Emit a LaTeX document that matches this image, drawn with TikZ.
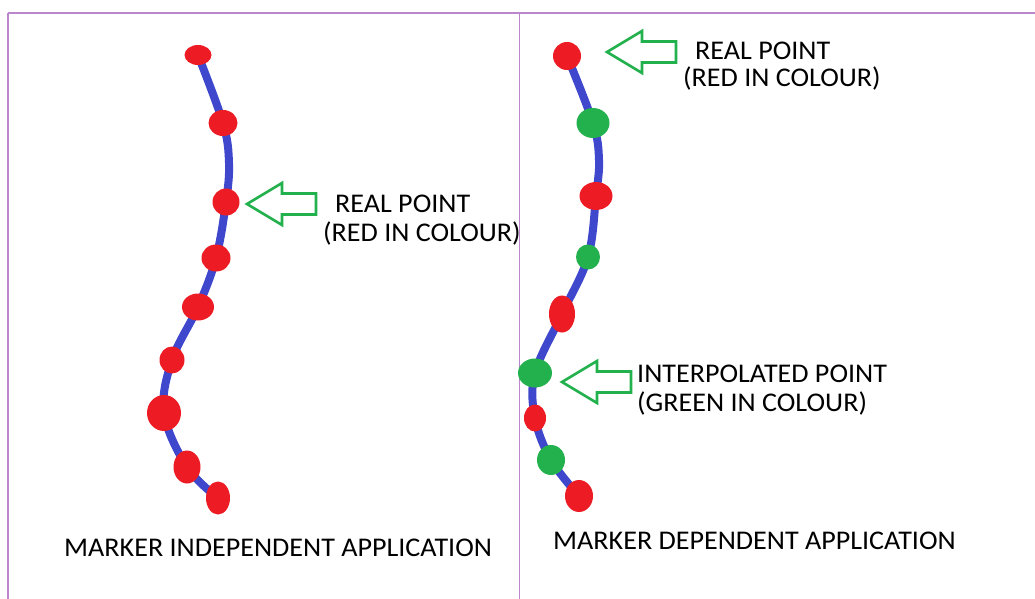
\documentclass[tikz,border=0pt]{standalone}
\usepackage{fontspec}
\setmainfont{Carlito}[FakeStretch=1.04]
\usetikzlibrary{shapes.geometric}

\definecolor{framepurple}{RGB}{188,134,204}
\definecolor{trackblue}{RGB}{63,72,204}
\definecolor{realred}{RGB}{237,28,36}
\definecolor{interpgreen}{RGB}{34,177,76}

\tikzset{
  frameline/.style={draw=framepurple},
  track/.style={draw=trackblue, line width=8pt, line cap=round, line join=round},
  realdot/.style={ellipse, fill=realred, inner sep=0pt},
  interpdot/.style={ellipse, fill=interpgreen, inner sep=0pt},
  label/.style={anchor=base west, inner sep=0pt, font=\fontsize{27}{32}\selectfont},
  pics/pointer/.style={code={
    \draw[draw=interpgreen, line width=2.6pt, line join=miter]
      (0,0) -- (35,-21) -- (35,-10.5) -- (69,-10.5) -- (69,10.5)
      -- (35,10.5) -- (35,21) -- cycle;
  }},
}

\begin{document}
\begin{tikzpicture}[x=1pt, y=-1pt]
  \useasboundingbox (0,0) rectangle (1035,599);

  % panel frame
  \draw[frameline, line width=2pt] (8,13) -- (1035,13);
  \draw[frameline, line width=1.5pt] (8,13) -- (8,599);
  \draw[frameline, line width=1pt] (519,13) -- (519,599);

  % ---- left panel: marker independent track ----
  \coordinate (a1) at (198,55);
  \coordinate (a2) at (223,123);
  \coordinate (a3) at (226,202);
  \coordinate (a4) at (216,258);
  \coordinate (a5) at (198,307);
  \coordinate (a6) at (172,360);
  \coordinate (a7) at (164,413);
  \coordinate (a8) at (187,467);
  \coordinate (a9) at (218,498);
  \coordinate (ab) at (229,163);

  \draw[track] plot[smooth, tension=0.6] coordinates
    {(a1) (a2) (ab) (a3) (a4) (a5) (a6) (a7) (a8) (a9)};

  \node[realdot, minimum width=27pt, minimum height=20pt] (A1) at (a1) {};
  \node[realdot, minimum width=29pt, minimum height=26pt] (A2) at (a2) {};
  \node[realdot, minimum width=27pt, minimum height=27pt] (A3) at (a3) {};
  \node[realdot, minimum width=29pt, minimum height=27pt] (A4) at (a4) {};
  \node[realdot, minimum width=32pt, minimum height=27pt] (A5) at (a5) {};
  \node[realdot, minimum width=25pt, minimum height=27pt] (A6) at (a6) {};
  \node[realdot, minimum width=34pt, minimum height=36pt] (A7) at (a7) {};
  \node[realdot, minimum width=27pt, minimum height=33pt] (A8) at (a8) {};
  \node[realdot, minimum width=24pt, minimum height=33pt] (A9) at (a9) {};

  \pic at (247,204) {pointer};
  \node[label] (realA1) at (335,212) {REAL POINT};
  \node[label] (realA2) at (323,241) {(RED IN COLOUR)};

  % ---- right panel: marker dependent track ----
  \coordinate (b1) at (567,56);
  \coordinate (b2) at (593,123);
  \coordinate (b3) at (596,196);
  \coordinate (b4) at (588,257);
  \coordinate (b5) at (562,314);
  \coordinate (b6) at (535,373);
  \coordinate (b7) at (535,418);
  \coordinate (b8) at (551,460);
  \coordinate (b9) at (579,496);
  \coordinate (bb) at (599,160);

  \draw[track] plot[smooth, tension=0.6] coordinates
    {(b1) (b2) (bb) (b3) (b4) (b5) (b6) (b7) (b8) (b9)};

  \node[realdot,   minimum width=28pt, minimum height=28pt] (B1) at (b1) {};
  \node[interpdot, minimum width=33pt, minimum height=30pt] (B2) at (b2) {};
  \node[realdot,   minimum width=33pt, minimum height=28pt] (B3) at (b3) {};
  \node[interpdot, minimum width=24pt, minimum height=25pt] (B4) at (b4) {};
  \node[realdot,   minimum width=26pt, minimum height=37pt] (B5) at (b5) {};
  \node[interpdot, minimum width=34pt, minimum height=29pt] (B6) at (b6) {};
  \node[realdot,   minimum width=22pt, minimum height=27pt] (B7) at (b7) {};
  \node[interpdot, minimum width=28pt, minimum height=30pt] (B8) at (b8) {};
  \node[realdot,   minimum width=28pt, minimum height=32pt] (B9) at (b9) {};

  \pic at (607,52) {pointer};
  \node[label] (realB1) at (695,60) {REAL POINT};
  \node[label] (realB2) at (683,87) {(RED IN COLOUR)};

  \pic at (562,382) {pointer};
  \node[label] (interpB1) at (637,382) {INTERPOLATED POINT};
  \node[label] (interpB2) at (637,411) {(GREEN IN COLOUR)};

  % panel captions
  \node[label] (capA) at (64,556) {MARKER INDEPENDENT APPLICATION};
  \node[label] (capB) at (553,549) {MARKER DEPENDENT APPLICATION};
\end{tikzpicture}
\end{document}
